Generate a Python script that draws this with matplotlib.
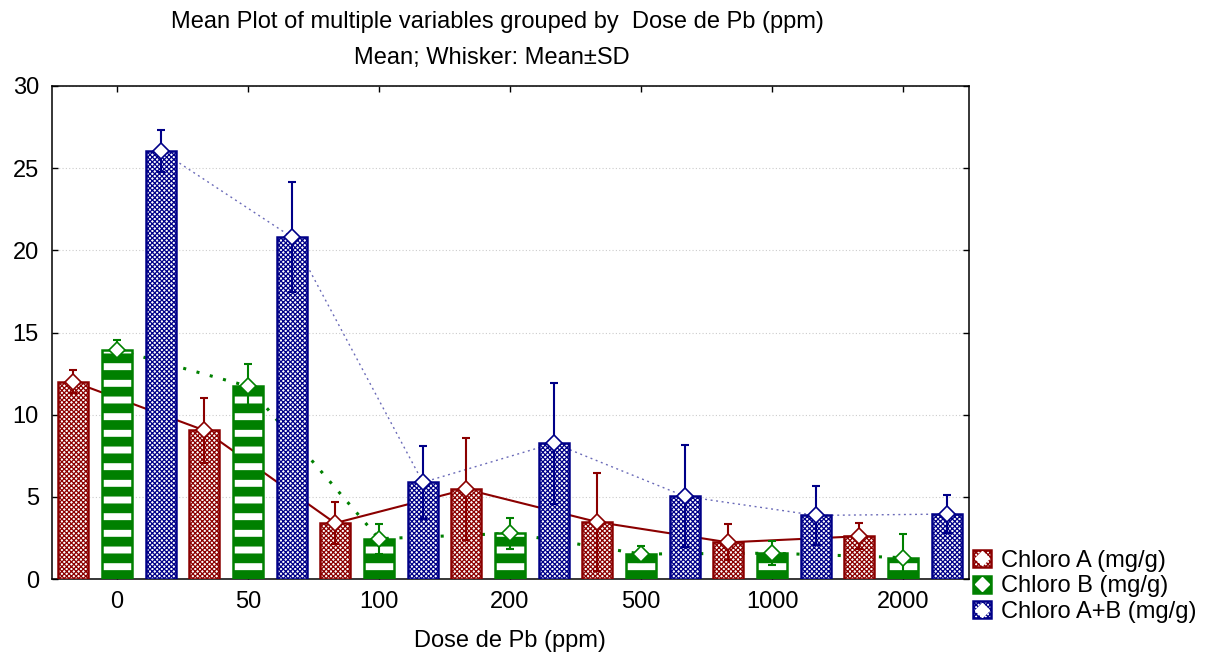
import numpy as np
import matplotlib
matplotlib.use("Agg")
import matplotlib.pyplot as plt
from matplotlib.patches import Patch
from matplotlib.lines import Line2D
from matplotlib.legend_handler import HandlerTuple

# values (mean and SD per dose)
doses = ["0", "50", "100", "200", "500", "1000", "2000"]

chloro_a = [12.0, 9.05, 3.4, 5.46, 3.47, 2.23, 2.6]
chloro_a_sd = [0.7, 1.97, 1.3, 3.1, 2.99, 1.1, 0.8]

chloro_b = [13.95, 11.73, 2.45, 2.78, 1.52, 1.57, 1.3]
chloro_b_sd = [0.62, 1.38, 0.9, 0.95, 0.46, 0.73, 1.46]

chloro_ab = [26.05, 20.8, 5.88, 8.26, 5.03, 3.87, 3.95]
chloro_ab_sd = [1.3, 3.35, 2.2, 3.67, 3.1, 1.8, 1.17]

labels = ["Chloro A (mg/g)", "Chloro B (mg/g)", "Chloro A+B (mg/g)"]

plt.rcParams["font.family"] = ["Liberation Sans", "DejaVu Sans"]
plt.rcParams["font.size"] = 17

RED = "#8b0000"
GREEN = "#008000"
BLUE = "#000088"

fig = plt.figure(figsize=(12.12, 6.61), dpi=100)
ax = fig.add_axes([51.5 / 1212, 82 / 661, 917 / 1212, 493 / 661])

x = np.arange(len(doses))
series = [
    (chloro_a, chloro_a_sd, RED, -0.335, "xxxxxxx", 0.9, dict(ls="-", lw=1.5, color=RED)),
    (chloro_b, chloro_b_sd, GREEN, 0.0, "-", 7.0, dict(ls=(0, (1, 3.5)), lw=2.2, color=GREEN)),
    (chloro_ab, chloro_ab_sd, BLUE, 0.335, "xxxxxxx", 0.9, dict(ls=(0, (1.4, 2.6)), lw=1.0, color="#6a6ab8")),
]

handles = []
for (mean, sd, col, off, hatch, hlw, lstyle), lab in zip(series, labels):
    xs = x + off
    # connecting line sits behind the bars
    ax.plot(xs, mean, zorder=2, **lstyle)
    with plt.rc_context({"hatch.linewidth": hlw}):
        bars = ax.bar(xs, mean, width=0.23, color="white", edgecolor=col,
                      hatch=hatch, linewidth=1.8, zorder=3)
        for b in bars:
            if hasattr(b, "set_hatch_linewidth"):
                b.set_hatch_linewidth(hlw)
        if hatch == "-":
            # striped swatch is shown nearly solid in the legend
            sw = Patch(facecolor=col, edgecolor=col, linewidth=1.8)
        else:
            sw = Patch(facecolor="white", edgecolor=col, hatch=hatch, linewidth=1.8)
            if hasattr(sw, "set_hatch_linewidth"):
                sw.set_hatch_linewidth(hlw)
    ax.errorbar(xs, mean, yerr=sd, fmt="none", ecolor=col, elinewidth=1.5,
                capsize=3, capthick=1.5, zorder=4)
    ax.plot(xs, mean, "D", ms=8, mfc="white", mec=col, mew=1.2, ls="none", zorder=5)
    mk = Line2D([], [], marker="D", ms=7, mfc="white", mec="white", ls="none")
    handles.append((sw, mk))

ax.set_xlim(-0.5, 6.5)
ax.set_ylim(0, 30)
ax.set_xticks(x)
ax.set_xticklabels(doses)
ax.set_yticks(np.arange(0, 31, 5))
ax.tick_params(direction="in", length=4, width=1, top=True, right=True)
ax.tick_params(axis="y", pad=9)
ax.tick_params(axis="x", pad=9)
for s in ax.spines.values():
    s.set_linewidth(1.1)
ax.yaxis.grid(True, ls=(0, (1, 2)), color="#cccccc", lw=0.8, zorder=0)
ax.set_axisbelow(True)

ax.set_xlabel("Dose de Pb (ppm)", labelpad=12)

fig.text(497 / 1212, 1 - 22 / 661, "Mean Plot of multiple variables grouped by  Dose de Pb (ppm)",
         ha="center", va="center")
fig.text(492 / 1212, 1 - 58 / 661, "Mean; Whisker: Mean\u00b1SD", ha="center", va="center")

fig.legend(handles, labels, handler_map={tuple: HandlerTuple(ndivide=1)},
           loc="lower left", bbox_to_anchor=(973 / 1212, 38 / 661), frameon=False,
           borderpad=0, handlelength=0.75, handleheight=0.75, handletextpad=0.45,
           labelspacing=0.15, borderaxespad=0)

fig.savefig("out.png", dpi=100)
